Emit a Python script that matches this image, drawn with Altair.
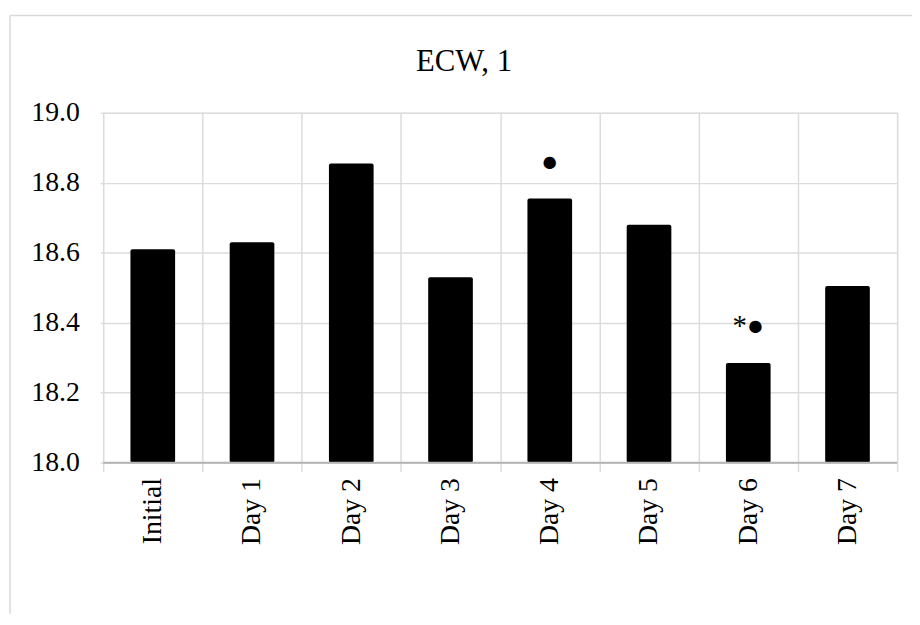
import altair as alt
import pandas as pd

categories = ["Initial", "Day 1", "Day 2", "Day 3", "Day 4", "Day 5", "Day 6", "Day 7"]
values = [18.61, 18.63, 18.855, 18.53, 18.755, 18.68, 18.285, 18.505]
marks = ["", "", "", "", "●", "", "*●", ""]
title_text = "ECW, 1"

df = pd.DataFrame({"cat": categories, "val": values, "mark": marks})
single = pd.DataFrame({"t": [title_text]})

FONT = "Liberation Serif"
GRID = "#dcdcdc"

x_enc = alt.X(
    "cat:N",
    sort=categories,
    scale=alt.Scale(paddingInner=0, paddingOuter=0),
    axis=alt.Axis(
        title=None,
        tickBand="extent",
        labelAngle=-90,
        labelFont=FONT,
        labelFontSize=28,
        labelColor="black",
        labelPadding=6,
        tickSize=9,
        tickColor=GRID,
        tickWidth=1.5,
        grid=True,
        gridColor=GRID,
        gridWidth=1.5,
        domain=False,
    ),
)

y_enc = alt.Y(
    "val:Q",
    scale=alt.Scale(domain=[18.0, 19.0], zero=False, nice=False),
    axis=alt.Axis(
        title=None,
        values=[18.0, 18.2, 18.4, 18.6, 18.8, 19.0],
        format=".1f",
        labelFont=FONT,
        labelFontSize=28,
        labelColor="black",
        labelPadding=21,
        tickSize=3,
        tickColor=GRID,
        tickWidth=1.5,
        grid=True,
        gridColor=GRID,
        gridWidth=1.5,
        domain=False,
    ),
)

base = alt.Chart(df)
one = alt.Chart(single)

bars = base.mark_bar(
    color="black", width=alt.RelativeBandSize(0.45), cornerRadius=2
).encode(x=x_enc, y=y_enc, y2=alt.datum(18.0))

labels = base.mark_text(
    font=FONT, fontSize=29, fontWeight="normal", baseline="middle", align="center",
    dy=-37, color="black"
).encode(x=alt.X("cat:N", sort=categories), y="val:Q", text="mark:N")

baseline = one.mark_rule(color="#b5b5b5", strokeWidth=2).encode(y=alt.datum(18.0))

title_mark = one.mark_text(
    font=FONT, fontSize=31, fontWeight="normal", baseline="alphabetic",
    align="center", color="black"
).encode(x=alt.value(364), y=alt.value(-42), text="t:N")

frame_top = one.mark_rule(color="#d9d9d9", strokeWidth=1.5).encode(
    x=alt.value(-94), x2=alt.value(830), y=alt.value(-98)
)
frame_left = one.mark_rule(color="#d9d9d9", strokeWidth=1.5).encode(
    x=alt.value(-94), y=alt.value(-98), y2=alt.value(520)
)

chart = (
    alt.layer(bars, baseline, labels, title_mark, frame_top, frame_left)
    .properties(
        width=801,
        height=353,
        autosize=alt.AutoSizeParams(type="none"),
        padding={"left": 96, "top": 103, "right": 15, "bottom": 150},
    )
    .configure_view(stroke=GRID, strokeWidth=1.5)
    .configure(background="white")
)

chart.save("out.html", embed_options={"renderer": "svg", "actions": False})
